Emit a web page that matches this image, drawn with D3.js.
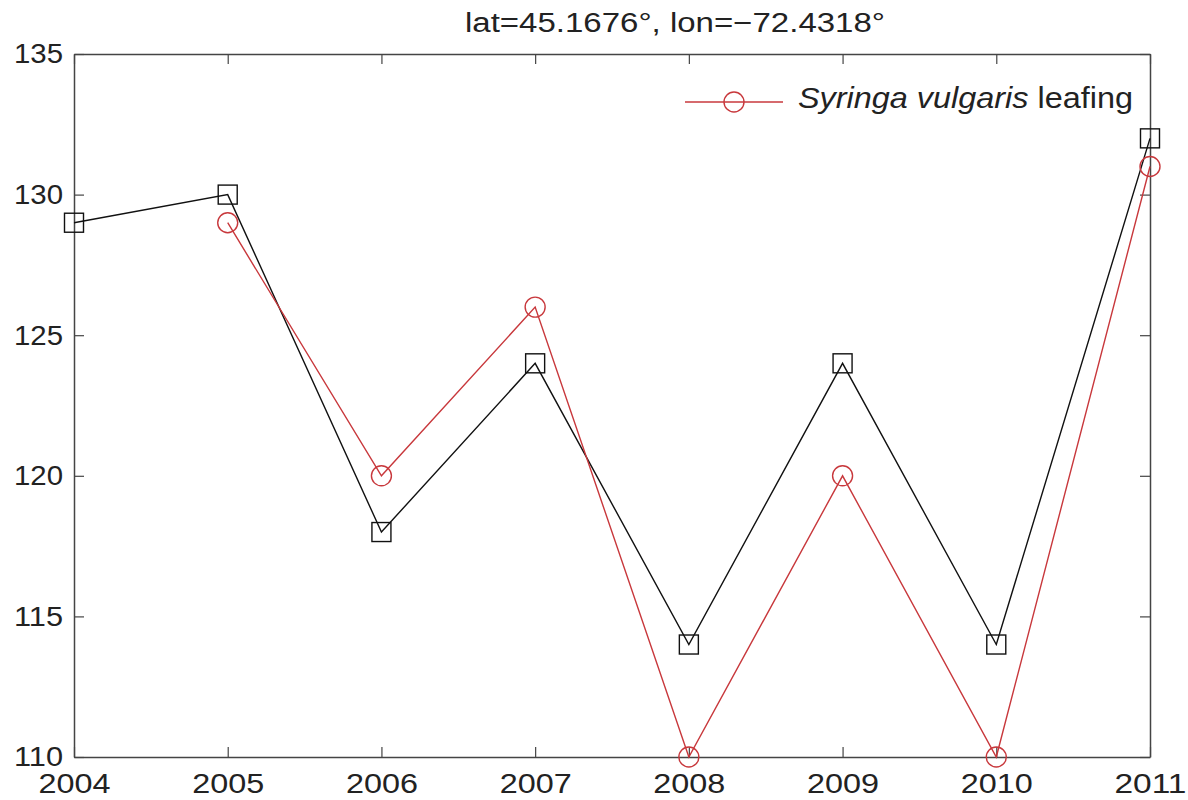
<!DOCTYPE html>
<html><head><meta charset="utf-8">
<script src="https://cdn.jsdelivr.net/npm/d3@7"></script>
<style>body{margin:0;background:#fff}svg{display:block}text{font-family:"Liberation Sans",Arial,sans-serif}</style>
</head><body><svg id="c" width="1188" height="800"></svg>
<script>
const years = [2004,2005,2006,2007,2008,2009,2010,2011];
const blackYears = [2004,2005,2006,2007,2008,2009,2010,2011];
const blackValues = [129,130,118,124,114,124,114,132];
const redYears = [2005,2006,2007,2008,2009,2010,2011];
const redValues = [129,120,126,110,120,110,131];
const yTicks = [110,115,120,125,130,135];
const title = "lat=45.1676°, lon=\u221272.4318°";

const svg = d3.select("#c");
const L=74,R=1150,T=54,B=757;
const x = d3.scaleLinear().domain([2004,2011]).range([L,R]);
const y = d3.scaleLinear().domain([110,135]).range([B,T]);
const frame="#444";

const gB = svg.append("g").attr("transform",`translate(0,${B})`)
  .call(d3.axisBottom(x).tickValues(years).tickFormat(d3.format("d")).tickSizeInner(-10).tickSizeOuter(0).tickPadding(16));
const gT = svg.append("g").attr("transform",`translate(0,${T})`)
  .call(d3.axisTop(x).tickValues(years).tickFormat("").tickSizeInner(-10).tickSizeOuter(0));
const gL = svg.append("g").attr("transform",`translate(${L},0)`)
  .call(d3.axisLeft(y).tickValues(yTicks).tickFormat(d3.format("d")).tickSizeInner(-10).tickSizeOuter(0).tickPadding(11));
const gR = svg.append("g").attr("transform",`translate(${R},0)`)
  .call(d3.axisRight(y).tickValues(yTicks).tickFormat("").tickSizeInner(-10).tickSizeOuter(0));
[gB,gT,gL,gR].forEach(g=>{
  g.selectAll("path").attr("stroke",frame).attr("stroke-width",1.5);
  g.selectAll("line").attr("stroke",frame).attr("stroke-width",1.2);
  g.selectAll("text").attr("fill","#222").attr("font-size",28).attr("font-family",'"Liberation Sans",Arial,sans-serif');
});
gB.selectAll("text").attr("dy","0.72em").attr("textLength",72).attr("lengthAdjust","spacingAndGlyphs");
gL.selectAll("text").attr("textLength",49).attr("lengthAdjust","spacingAndGlyphs");

svg.append("text").attr("x",(L+R)/2+63).attr("y",32).attr("text-anchor","middle")
  .attr("font-size",27).attr("fill","#222")
  .attr("textLength",420).attr("lengthAdjust","spacingAndGlyphs").text(title);

const line = d3.line().x(d=>x(d[0])).y(d=>y(d[1]));
const bData = blackYears.map((d,i)=>[d,blackValues[i]]);
const rData = redYears.map((d,i)=>[d,redValues[i]]);
const red="#c8383c";

svg.append("path").datum(bData).attr("d",line).attr("fill","none").attr("stroke","#111").attr("stroke-width",1.4);
svg.append("path").datum(rData).attr("d",line).attr("fill","none").attr("stroke",red).attr("stroke-width",1.4);

svg.selectAll("rect.m").data(bData).enter().append("rect").attr("class","m")
  .attr("x",d=>x(d[0])-9.5).attr("y",d=>y(d[1])-9.5).attr("width",19).attr("height",19)
  .attr("fill","none").attr("stroke","#111").attr("stroke-width",1.4);
svg.selectAll("circle.m").data(rData).enter().append("circle").attr("class","m")
  .attr("cx",d=>x(d[0])).attr("cy",d=>y(d[1])).attr("r",10)
  .attr("fill","none").attr("stroke",red).attr("stroke-width",1.4);

const ly=102;
svg.append("line").attr("x1",685).attr("x2",783).attr("y1",ly).attr("y2",ly).attr("stroke",red).attr("stroke-width",1.4);
svg.append("circle").attr("cx",734).attr("cy",ly).attr("r",10).attr("fill","none").attr("stroke",red).attr("stroke-width",1.4);
const lt = svg.append("text").attr("x",798).attr("y",108).attr("font-size",29).attr("fill","#222")
  .attr("textLength",335).attr("lengthAdjust","spacingAndGlyphs");
lt.append("tspan").attr("font-style","italic").text("Syringa vulgaris");
lt.append("tspan").text(" leafing");
</script></body></html>
